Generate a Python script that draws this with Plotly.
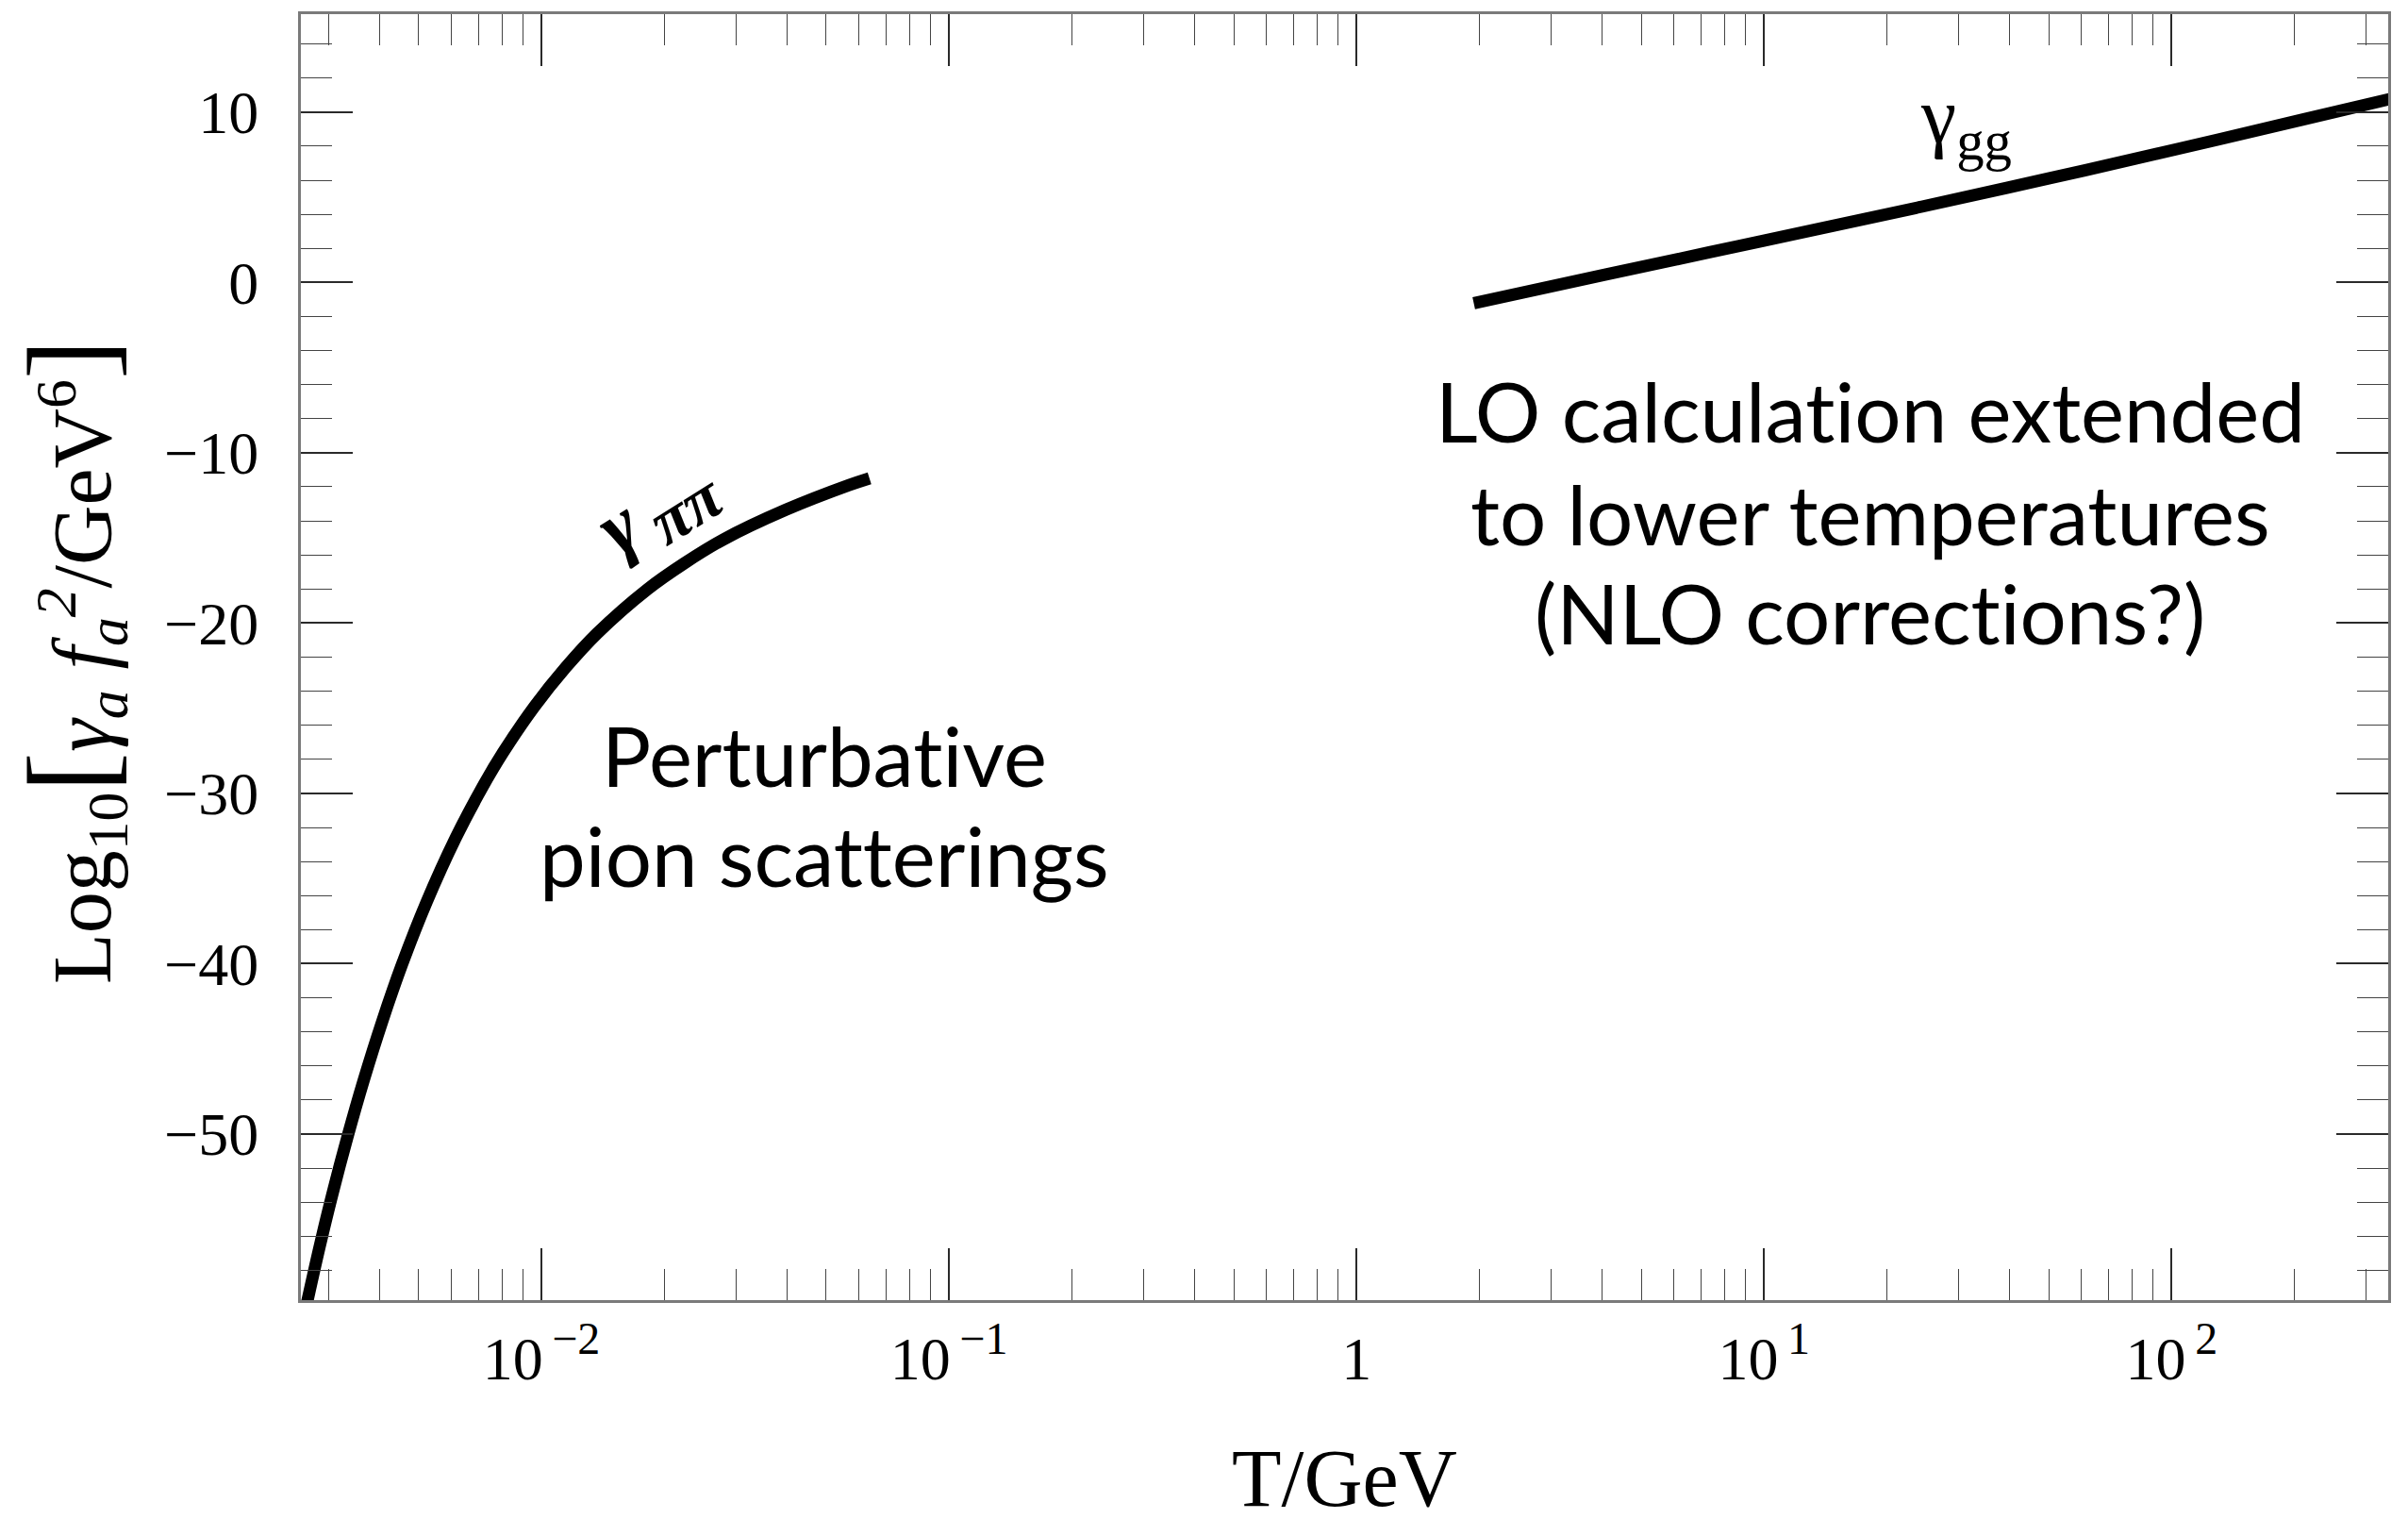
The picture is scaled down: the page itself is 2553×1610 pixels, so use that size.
import math
import plotly.graph_objects as go

# --- data -----------------------------------------------------------------
# pion-scattering rate (low temperatures), T in GeV
T_pipi = [0.002655, 0.002858, 0.003069, 0.003350, 0.003664, 0.004074, 0.004550,
          0.005224, 0.006166, 0.007161, 0.008054, 0.009616, 0.01148, 0.01371,
          0.01824, 0.02239, 0.02793, 0.03981, 0.05689, 0.06383]
log_rate_pipi = [-60.0, -56.6, -53.55, -50.1, -46.85, -43.35, -40.05,
                 -36.4, -32.6, -29.65, -27.6, -24.9, -22.6, -20.6,
                 -18.0, -16.5, -15.1, -13.35, -11.9, -11.5]

# gluon-gluon rate (high temperatures), T in GeV
T_gg = [1.94, 4.07, 9.98, 24.4, 49.9, 102.0, 209.0, 344.0]
log_rate_gg = [-1.22, 0.45, 2.45, 4.45, 6.1, 7.8, 9.55, 10.77]

# axis ticks
SUP = "<sup><span style=\"font-size:48px\">{}</span></sup>"
x_tickvals = [0.01, 0.1, 1, 10, 100]
x_ticktext = ["10" + SUP.format("\u2009\u22122"),
              "10" + SUP.format("\u2009\u22121"),
              "1",
              "10" + SUP.format("\u20091"),
              "10" + SUP.format("\u20092")]
x_minor = ([k * 1e-3 for k in range(3, 10)] + [k * 1e-2 for k in range(2, 10)] +
           [k * 1e-1 for k in range(2, 10)] + [float(k) for k in range(2, 10)] +
           [k * 10.0 for k in range(2, 10)] + [200.0, 300.0])
y_tickvals = [-50, -40, -30, -20, -10, 0, 10]

X_RANGE_T = (0.00257, 340.0)
Y_RANGE = (-59.75, 15.75)

SERIF = "Liberation Serif"
SANS = "Lato"
FRAME = "#7a7a7a"
TICK = "#2a2a2a"

fig = go.Figure()

for xs, ys in ((T_pipi, log_rate_pipi), (T_gg, log_rate_gg)):
    fig.add_trace(go.Scatter(
        x=xs, y=ys, mode="lines",
        line=dict(color="black", width=13, shape="spline", smoothing=1.0),
        hoverinfo="skip", showlegend=False,
    ))

axis_common = dict(
    showline=True, linecolor=FRAME, linewidth=3, mirror="allticks",
    ticks="inside", ticklen=55, tickwidth=1.6, tickcolor=TICK,
    showgrid=False, zeroline=False,
    tickfont=dict(family=SERIF, size=64, color="black"),
)

fig.update_xaxes(
    type="log",
    range=[math.log10(X_RANGE_T[0]), math.log10(X_RANGE_T[1])],
    tickmode="array", tickvals=x_tickvals, ticktext=x_ticktext,
    minor=dict(tickmode="array", tickvals=x_minor, ticks="inside",
               ticklen=33, tickwidth=1.4, tickcolor="#444444", showgrid=False),
    ticklabelstandoff=4,
    **axis_common,
)
fig.update_yaxes(
    range=list(Y_RANGE),
    tickmode="array", tickvals=y_tickvals,
    minor=dict(dtick=2, tick0=0, ticks="inside",
               ticklen=33, tickwidth=1.4, tickcolor="#444444", showgrid=False),
    ticklabelstandoff=29,
    **axis_common,
)

NOLIG = "<span style=\"font-variant-ligatures:none\">{}</span>"

annotations = [
    # axis titles
    dict(text="T/GeV", xref="paper", yref="paper", x=0.5, y=-0.139,
         xanchor="center", yanchor="middle",
         font=dict(family=SERIF, size=86, color="black")),
    dict(text=("Log<sub>10</sub><span style=\"font-size:128px\">[</span>"
               "<i>\u03b3<sub>a</sub> f<sub>a</sub><sup>2</sup></i>/GeV<sup>6</sup>"
               "<span style=\"font-size:128px\">]</span>"),
         xref="paper", yref="paper", x=-0.1098, y=0.4967,
         xanchor="center", yanchor="middle", textangle=-90,
         font=dict(family=SERIF, size=88, color="black")),
    # curve labels
    dict(text=("<b><i>\u03b3</i></b><sub><span style=\"font-size:70px\">"
               "<b><i>\u2009\u03c0\u03c0</i></b></span></sub>"),
         x=-1.712, y=-13.3,
         xanchor="center", yanchor="middle", textangle=-32,
         font=dict(family=SERIF, size=84, color="black")),
    dict(text="\u03b3<sub>gg</sub>", x=1.495, y=9.45,
         xanchor="center", yanchor="middle",
         font=dict(family=SERIF, size=84, color="black")),
]

# region descriptions
region_lines = [
    ("Perturbative", -1.306, -27.77),
    ("pion scatterings", -1.306, -33.64),
    ("LO calculation extended", 1.260, -7.52),
    ("to lower temperatures", 1.260, -13.56),
    ("(NLO corrections?)", 1.260, -19.37),
]
for txt, lx, ly in region_lines:
    annotations.append(dict(text=NOLIG.format(txt), x=lx, y=ly,
                            xanchor="center", yanchor="middle",
                            font=dict(family=SANS, size=87, color="black")))

for a in annotations:
    a.setdefault("showarrow", False)

fig.update_layout(
    width=2553, height=1610,
    margin=dict(l=319, r=21, t=13, b=232),
    paper_bgcolor="white", plot_bgcolor="white",
    annotations=annotations,
    showlegend=False,
)

fig.write_html("out.html", config={"displayModeBar": False})
